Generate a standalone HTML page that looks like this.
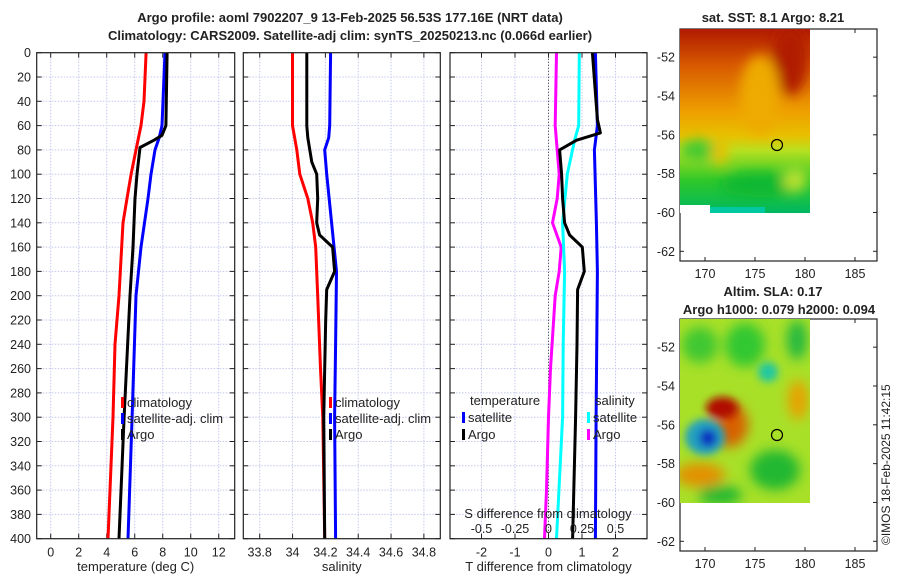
<!DOCTYPE html>
<html><head><meta charset="utf-8"><style>
body{margin:0;background:#fff;}
svg text{font-family:"Liberation Sans","DejaVu Sans",sans-serif;fill:#222;}
</style></head><body>
<svg id="fig" width="900" height="580" xmlns="http://www.w3.org/2000/svg">
<defs>
<filter id="blur6"><feGaussianBlur stdDeviation="6"/></filter>
<filter id="blur4"><feGaussianBlur stdDeviation="4"/></filter>
<clipPath id="clipSST"><rect x="680" y="29" width="130" height="184"/></clipPath>
<clipPath id="clipSLA"><rect x="680" y="319" width="130" height="184"/></clipPath>
<linearGradient id="sstGrad" x1="0" y1="0" x2="0" y2="1">
<stop offset="0" stop-color="#b01a00"/><stop offset="0.2" stop-color="#d85a00"/><stop offset="0.45" stop-color="#eea000"/>
<stop offset="0.58" stop-color="#e8c000"/><stop offset="0.66" stop-color="#b8e020"/><stop offset="0.82" stop-color="#30c828"/><stop offset="1" stop-color="#00b860"/>
</linearGradient>
</defs>
<text x="350" y="22" text-anchor="middle" font-size="13" font-weight="bold">Argo profile: aoml 7902207_9 13-Feb-2025 56.53S 177.16E (NRT data)</text>
<text x="350" y="40" text-anchor="middle" font-size="13" font-weight="bold">Climatology: CARS2009. Satellite-adj clim: synTS_20250213.nc (0.066d earlier)</text>
<g id="plots"></g>

<g>
<text x="773" y="22" text-anchor="middle" font-size="13" font-weight="bold">sat. SST: 8.1 Argo: 8.21</text>
<g clip-path="url(#clipSST)">
<rect x="680" y="29" width="130" height="184" fill="url(#sstGrad)"/>
<g filter="url(#blur6)">
<ellipse cx="790" cy="60" rx="18" ry="35" fill="#b01a00"/>
<ellipse cx="760" cy="95" rx="20" ry="40" fill="#eeaa00"/>
<ellipse cx="700" cy="150" rx="20" ry="10" fill="#40c830"/>
<ellipse cx="760" cy="185" rx="40" ry="12" fill="#10b830"/>
<ellipse cx="795" cy="180" rx="12" ry="12" fill="#b8e030"/>
<ellipse cx="720" cy="150" rx="8" ry="15" fill="#e8c000"/>
</g>
<rect x="680" y="205" width="30" height="8" fill="#fff"/>
<rect x="710" y="207" width="55" height="6" fill="#00c8a0"/>
</g>
<circle cx="777" cy="145" r="5.5" fill="none" stroke="#000" stroke-width="1.2"/>
</g>
<g>
<text x="773" y="296" text-anchor="middle" font-size="13" font-weight="bold">Altim. SLA: 0.17</text>
<text x="779" y="314" text-anchor="middle" font-size="13" font-weight="bold">Argo h1000: 0.079 h2000: 0.094</text>
<g clip-path="url(#clipSLA)">
<rect x="680" y="319" width="130" height="184" fill="#a8e028"/>
<g filter="url(#blur6)">
<ellipse cx="745" cy="345" rx="20" ry="22" fill="#30c830"/>
<ellipse cx="700" cy="345" rx="18" ry="18" fill="#40c830"/>
<ellipse cx="797" cy="340" rx="10" ry="20" fill="#20b840"/>
<ellipse cx="798" cy="400" rx="10" ry="20" fill="#e8a000"/>
<ellipse cx="730" cy="425" rx="18" ry="22" fill="#d86000"/>
<ellipse cx="700" cy="475" rx="25" ry="12" fill="#e49000"/>
<ellipse cx="775" cy="470" rx="25" ry="20" fill="#20b830"/>
<ellipse cx="720" cy="495" rx="22" ry="10" fill="#20b830"/>
</g>
<g filter="url(#blur4)">
<ellipse cx="722" cy="408" rx="16" ry="11" fill="#b01000"/>
<ellipse cx="768" cy="372" rx="10" ry="10" fill="#20c8a0"/>
<ellipse cx="705" cy="437" rx="20" ry="18" fill="#20a0c0"/>
<ellipse cx="708" cy="438" rx="9" ry="9" fill="#1030c0"/>
</g>
</g>
<circle cx="777" cy="435" r="5.5" fill="none" stroke="#000" stroke-width="1.2"/>
</g>
<text transform="translate(890,545) rotate(-90)" font-size="12">©IMOS 18-Feb-2025 11:42:15</text>
</svg>
<script>
const depthTicks=[0,20,40,60,80,100,120,140,160,180,200,220,240,260,280,300,320,340,360,380,400];
const tempTicks=[0,2,4,6,8,10,12];
const salTicks=[33.8,34,34.2,34.4,34.6,34.8];
const tdiffTicks=[-2,-1,0,1,2];
const sdiffTicks=[-0.5,-0.25,0,0.25,0.5];
const sdiffLabels=["-0.5","-0.25","0","0.25","0.5"];
const lonTicks=[170,175,180,185];
const latTicks=[-52,-54,-56,-58,-60,-62];

const tClimDepth=[0,40,60,80,100,120,140,200,240,300,400];
const tClim=[6.81,6.66,6.45,6.09,5.74,5.45,5.16,4.88,4.59,4.45,4.09];
const tSatDepth=[0,60,70,80,100,120,160,200,300,400];
const tSat=[8.16,7.95,7.75,7.45,7.16,6.95,6.45,6.09,5.81,5.52];
const tArgoDepth=[0,60,68,72,78,100,120,160,200,300,400];
const tArgo=[8.31,8.23,7.95,7.38,6.38,6.16,6.02,5.88,5.66,5.24,4.88];

const sClimDepth=[0,40,60,80,100,120,140,160,200,260,300,400];
const sClim=[34.00,34.00,34.00,34.026,34.044,34.093,34.123,34.141,34.153,34.17,34.184,34.196];
const sSatDepth=[0,60,70,80,100,140,180,240,300,400];
const sSat=[34.232,34.226,34.22,34.196,34.208,34.238,34.268,34.262,34.256,34.262];
const sArgoDepth=[0,60,70,90,100,120,140,150,160,180,195,220,260,300,400];
const sArgo=[34.087,34.087,34.093,34.117,34.147,34.153,34.147,34.165,34.244,34.256,34.208,34.202,34.196,34.19,34.196];

const dTSatDepth=[0,60,80,140,180,300,400];
const dTSat=[1.40,1.46,1.37,1.43,1.46,1.42,1.40];
const dTArgoDepth=[0,55,66,72,80,100,120,140,150,160,180,195,240,300,400];
const dTArgo=[1.31,1.46,1.55,0.84,0.33,0.39,0.42,0.48,0.63,1.01,1.07,0.87,0.85,0.81,0.72];
const dSSatDepth=[0,60,72,100,140,180,240,300,400];
const dSSat=[0.23,0.225,0.195,0.14,0.105,0.12,0.11,0.105,0.06];
const dSArgoDepth=[0,60,80,100,120,140,160,180,200,260,300,360,400];
const dSArgo=[0.06,0.05,0.065,0.08,0.065,0.03,0.095,0.08,0.05,0.015,0.0,-0.015,-0.03];

const NS="http://www.w3.org/2000/svg";
const root=document.getElementById('plots');
const yTop=52.7, yBot=538.7;
const yS=d=>yTop+(d/400)*(yBot-yTop);
function mk(tag,attrs,parent){const e=document.createElementNS(NS,tag);for(const k in attrs)e.setAttribute(k,attrs[k]);(parent||root).appendChild(e);return e;}
function lin(d0,d1,r0,r1){return v=>r0+(v-d0)/(d1-d0)*(r1-r0);}

const panels=[
 {name:'temperature-panel',x0:36.7,x1:234.7,xs:lin(-1,13.14,36.7,234.7),ticks:tempTicks,labels:tempTicks.map(String),title:'temperature (deg C)'},
 {name:'salinity-panel',x0:243.3,x1:440.3,xs:lin(33.7,34.9,243.3,440.3),ticks:salTicks,labels:salTicks.map(String),title:'salinity'},
 {name:'difference-panel',x0:450,x1:647,xs:lin(-2.94,2.94,450,647),ticks:tdiffTicks,labels:tdiffTicks.map(String),title:'T difference from climatology'}
];
panels.forEach((p,i)=>{
  const g=mk('g',{});
  
  
  p.ticks.forEach(t=>{const gl=mk('line',{x1:p.xs(t),x2:p.xs(t),y1:yTop,y2:yBot,stroke:'#c4c8ec','stroke-width':1,'stroke-dasharray':'1.5,1.5'},g);
    });
  depthTicks.forEach(d=>{const gl=mk('line',{x1:p.x0,x2:p.x1,y1:yS(d),y2:yS(d),stroke:'#c4c8ec','stroke-width':1,'stroke-dasharray':'1.5,1.5'},g);
    });
  depthTicks.forEach(d=>{mk('line',{x1:p.x0,x2:p.x0+5,y1:yS(d),y2:yS(d),stroke:'#222'},g);mk('line',{x1:p.x1,x2:p.x1-5,y1:yS(d),y2:yS(d),stroke:'#222'},g);});
  p.ticks.forEach((t,k)=>{mk('line',{x1:p.xs(t),x2:p.xs(t),y1:yBot,y2:yBot-5,stroke:'#222'},g);mk('line',{x1:p.xs(t),x2:p.xs(t),y1:yTop,y2:yTop+5,stroke:'#222'},g);
    const tl=mk('text',{x:p.xs(t),y:yBot+18,'text-anchor':'middle','font-size':12.5},g);tl.textContent=p.labels[k];
    });
  const xt=mk('text',{x:(p.x0+p.x1)/2,y:571,'text-anchor':'middle','font-size':13},g);xt.textContent=p.title;
  
});
depthTicks.forEach(d=>{const t=mk('text',{x:31,y:yS(d)+4.5,'text-anchor':'end','font-size':12.5});t.textContent=String(d);
  });

const dP=panels[2];
const zl=mk('line',{x1:dP.xs(0),x2:dP.xs(0),y1:yTop,y2:yBot,stroke:'#333','stroke-width':1,'stroke-dasharray':'1,2'});

const sx=lin(-0.735,0.735,450,647);

function series(xs,vals,depths,color,name){
  const pts=vals.map((v,i)=>xs(v).toFixed(1)+','+yS(depths[i]).toFixed(1)).join(' ');
  const l=mk('polyline',{points:pts,fill:'none',stroke:color,'stroke-width':3,'stroke-linejoin':'round'});
  
  
}
series(panels[0].xs,tClim,tClimDepth,'#ff0000','temp-climatology-line');
series(panels[0].xs,tSat,tSatDepth,'#0000ff','temp-satellite-line');
series(panels[0].xs,tArgo,tArgoDepth,'#000','temp-argo-line');
series(panels[1].xs,sClim,sClimDepth,'#ff0000','sal-climatology-line');
series(panels[1].xs,sSat,sSatDepth,'#0000ff','sal-satellite-line');
series(panels[1].xs,sArgo,sArgoDepth,'#000','sal-argo-line');
series(sx,dSArgo,dSArgoDepth,'#ff00ff','sdiff-argo-line');
series(sx,dSSat,dSSatDepth,'#00ffff','sdiff-satellite-line');
series(dP.xs,dTSat,dTSatDepth,'#0000ff','tdiff-satellite-line');
series(dP.xs,dTArgo,dTArgoDepth,'#000','tdiff-argo-line');

panels.forEach(p=>{const r=mk('rect',{x:p.x0,y:yTop,width:p.x1-p.x0,height:yBot-yTop,fill:'none',stroke:'#222','stroke-width':1.2});
  });

const st=mk('text',{x:548,y:518,'text-anchor':'middle','font-size':13});st.textContent='S difference from climatology';

sdiffTicks.forEach((t,k)=>{const tl=mk('text',{x:sx(t),y:533,'text-anchor':'middle','font-size':12.5});tl.textContent=sdiffLabels[k];
  });

function legend(x,y,color,label,name){
  const g=mk('g',{});
  if(color)mk('rect',{x:x,y:y-10,width:3,height:11,fill:color},g);
  const t=mk('text',{x:x+6,y:y,'font-size':13},g);t.textContent=label;
}
legend(121,407,'#ff0000','climatology','legend-temp-climatology');
legend(121,423,'#0000ff','satellite-adj. clim','legend-temp-satellite');
legend(121,439,'#000','Argo','legend-temp-argo');
legend(329,407,'#ff0000','climatology','legend-sal-climatology');
legend(329,423,'#0000ff','satellite-adj. clim','legend-sal-satellite');
legend(329,439,'#000','Argo','legend-sal-argo');
legend(464,405,null,'temperature','legend-temperature-header');
legend(462,422,'#0000ff','satellite','legend-tdiff-satellite');
legend(462,439,'#000','Argo','legend-tdiff-argo');
legend(589,405,null,'salinity','legend-salinity-header');
legend(587,422,'#00ffff','satellite','legend-sdiff-satellite');
legend(587,439,'#ff00ff','Argo','legend-sdiff-argo');

const lonX=lin(167.5,187.2,680,877);
function mapAxes(my0,my1,latTop,latBot,name){
  const ly=lin(latTop,latBot,my0,my1);
  const g=mk('g',{});
  mk('rect',{x:680,y:my0,width:197,height:my1-my0,fill:'none',stroke:'#222','stroke-width':1.2},g);
  lonTicks.forEach(l=>{mk('line',{x1:lonX(l),x2:lonX(l),y1:my1,y2:my1-4,stroke:'#222'},g);mk('line',{x1:lonX(l),x2:lonX(l),y1:my0,y2:my0+4,stroke:'#222'},g);
    const t=mk('text',{x:lonX(l),y:my1+17,'text-anchor':'middle','font-size':12.5},g);t.textContent=String(l);
    });
  latTicks.forEach(l=>{mk('line',{x1:680,x2:684,y1:ly(l),y2:ly(l),stroke:'#222'},g);mk('line',{x1:877,x2:873,y1:ly(l),y2:ly(l),stroke:'#222'},g);
    const t=mk('text',{x:675,y:ly(l)+4.5,'text-anchor':'end','font-size':12.5},g);t.textContent=String(l);
    });
}
mapAxes(29,261,-50.55,-62.5,'sst-map-axes');
mapAxes(319,551,-50.55,-62.5,'sla-map-axes');
</script>
</body></html>
